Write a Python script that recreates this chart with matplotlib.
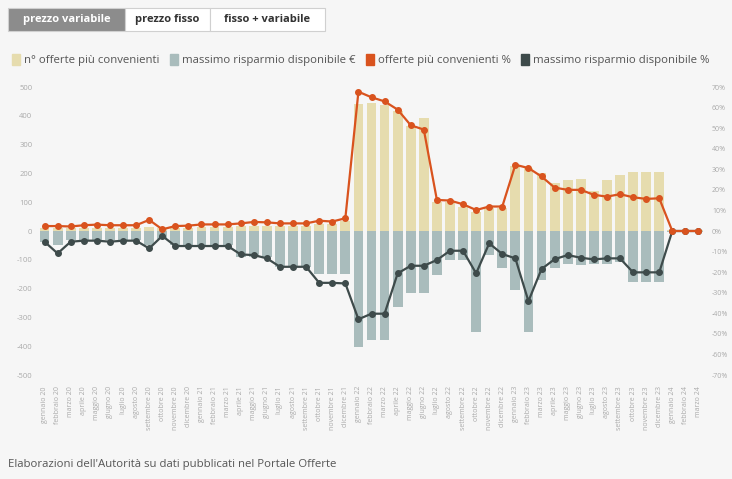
import numpy as np
import matplotlib.pyplot as plt
from matplotlib.patches import Rectangle, Patch

plt.rcParams['font.family'] = ['Open Sans', 'DejaVu Sans']

# month labels
mesi = ['gennaio', 'febbraio', 'marzo', 'aprile', 'maggio', 'giugno', 'luglio',
        'agosto', 'settembre', 'ottobre', 'novembre', 'dicembre']
anni = ['20', '21', '22', '23', '24']
labels = [f'{m} {a}' for a in anni for m in mesi][:51]

# n° offerte più convenienti (left axis)
offerte_n = [12, 12, 12, 12, 12, 12, 12, 12, 15, 10, 12, 12, 14, 14, 14, 16, 18, 18, 18, 18, 18, 25, 25, 35,
             440, 445, 439, 415, 363, 393, 102, 102, 85, 67, 79, 79,
             224, 218, 201, 165, 178, 180, 140, 178, 195, 204, 204, 204,
             5, 5, 5]

# massimo risparmio disponibile € (left axis)
risparmio_eur = [-37, -50, -31, -31, -31, -31, -31, -31, -50, -27, -49, -49, -49, -49, -49, -89, -89, -89,
                 -124, -124, -124, -150, -150, -150,
                 -403, -380, -380, -264, -217, -217, -153, -101, -101, -351, -84, -130,
                 -206, -351, -171, -130, -113, -118, -113, -113, -107, -177, -177, -177,
                 -3, -3, -3]

# offerte più convenienti % (right axis)
offerte_pct = [2.4, 2.4, 2.2, 2.8, 3.1, 2.8, 2.8, 2.8, 5.4, 0.8, 2.4, 2.6, 3.2, 3.2, 3.2, 3.7, 4.4, 4.2,
               3.7, 3.7, 3.7, 5.0, 4.6, 6.2,
               67.7, 65, 63, 59, 51.4, 49.3, 15.1, 14.8, 13, 10.2, 11.9, 11.9,
               32.2, 30.6, 26.5, 21.1, 20, 20, 17.6, 16.7, 17.9, 16.4, 15.6, 15.9,
               0, 0, 0]

# massimo risparmio disponibile % (right axis)
risparmio_pct = [-5.2, -10.9, -5.2, -4.7, -4.7, -5.2, -4.7, -4.7, -8.5, -2.4, -7.3, -7.3, -7.3, -7.3, -7.3,
                 -11.4, -11.7, -13.3, -17.4, -17.4, -17.4, -25.2, -25.2, -25.5,
                 -42.9, -40.2, -40.2, -20.6, -16.9, -16.9, -14.1, -9.6, -9.6, -20.6, -6, -11.2,
                 -13.3, -34.1, -18.5, -13.7, -11.7, -13, -13.8, -13.3, -13.3, -20.1, -20.1, -20.1,
                 0, 0, 0]

bg = '#f6f6f6'
c_yellow = '#e6dcae'
c_grey = '#a9bcbc'
c_orange = '#d9531e'
c_dark = '#3e4b4b'

W, H = 732, 479
fig = plt.figure(figsize=(W / 100, H / 100), dpi=100, facecolor=bg)

# plot area in pixels
left, right, top, bottom = 38, 705, 87, 375
ax = fig.add_axes([left / W, 1 - bottom / H, (right - left) / W, (bottom - top) / H])
ax.set_facecolor(bg)
x = np.arange(len(labels))
ax.bar(x, offerte_n, width=0.75, color=c_yellow, zorder=2)
ax.bar(x, risparmio_eur, width=0.75, color=c_grey, zorder=2)
ax.set_xlim(-0.5, len(labels) - 0.5)
ax.set_ylim(-500, 500)
ax.set_yticks(range(-500, 501, 100))
ax.set_yticklabels([str(v) for v in range(-500, 501, 100)])
ax.set_xticks(x)
ax.set_xticklabels(labels, rotation=90, fontsize=5, color='#aaaaaa')
ax.tick_params(axis='y', length=0, labelsize=5.5, labelcolor='#aaaaaa', pad=4)
ax.tick_params(axis='x', length=0, pad=8)
for s in ax.spines.values():
    s.set_visible(False)

ax2 = ax.twinx()
ax2.plot(x, risparmio_pct, color=c_dark, marker='o', markersize=4, linewidth=1.6, zorder=3)
ax2.plot(x, offerte_pct, color=c_orange, marker='o', markersize=4, linewidth=1.6, zorder=4)
ax2.set_ylim(-70, 70)
ax2.set_yticks(range(-70, 71, 10))
ax2.set_yticklabels([f'{v}%' for v in range(-70, 71, 10)])
ax2.tick_params(axis='y', length=0, labelsize=5, labelcolor='#aaaaaa', pad=5)
for s in ax2.spines.values():
    s.set_visible(False)

# tabs on top
tabs = [('prezzo variabile', 8, 125, True), ('prezzo fisso', 125, 210, False),
        ('fisso + variabile', 210, 325, False)]
for name, x0, x1, sel in tabs:
    fig.patches.append(Rectangle((x0 / W, 1 - 31 / H), (x1 - x0) / W, 23 / H,
                                 transform=fig.transFigure,
                                 facecolor='#8c8c8c' if sel else 'white',
                                 edgecolor='#d0d0d0', linewidth=0.8))
    fig.text((x0 + x1) / 2 / W, 1 - 19.5 / H, name, ha='center', va='center',
             fontsize=8, fontweight='bold', color='white' if sel else '#333333')

# legend
handles = [Patch(color=c_yellow), Patch(color=c_grey), Patch(color=c_orange), Patch(color=c_dark)]
names = ['n° offerte più convenienti', 'massimo risparmio disponibile €',
         'offerte più convenienti %', 'massimo risparmio disponibile %']
fig.legend(handles, names, loc='center left', bbox_to_anchor=(2 / W, 1 - 60 / H), ncol=4,
           frameon=False, fontsize=8.2, handlelength=0.7, handleheight=1.1, handletextpad=0.35,
           columnspacing=0.9, labelcolor='#555555')

fig.text(8 / W, 1 - 465 / H, "Elaborazioni dell'Autorità su dati pubblicati nel Portale Offerte",
         fontsize=8.2, color='#555555', va='center')

fig.savefig('out.png', dpi=100, facecolor=bg)
